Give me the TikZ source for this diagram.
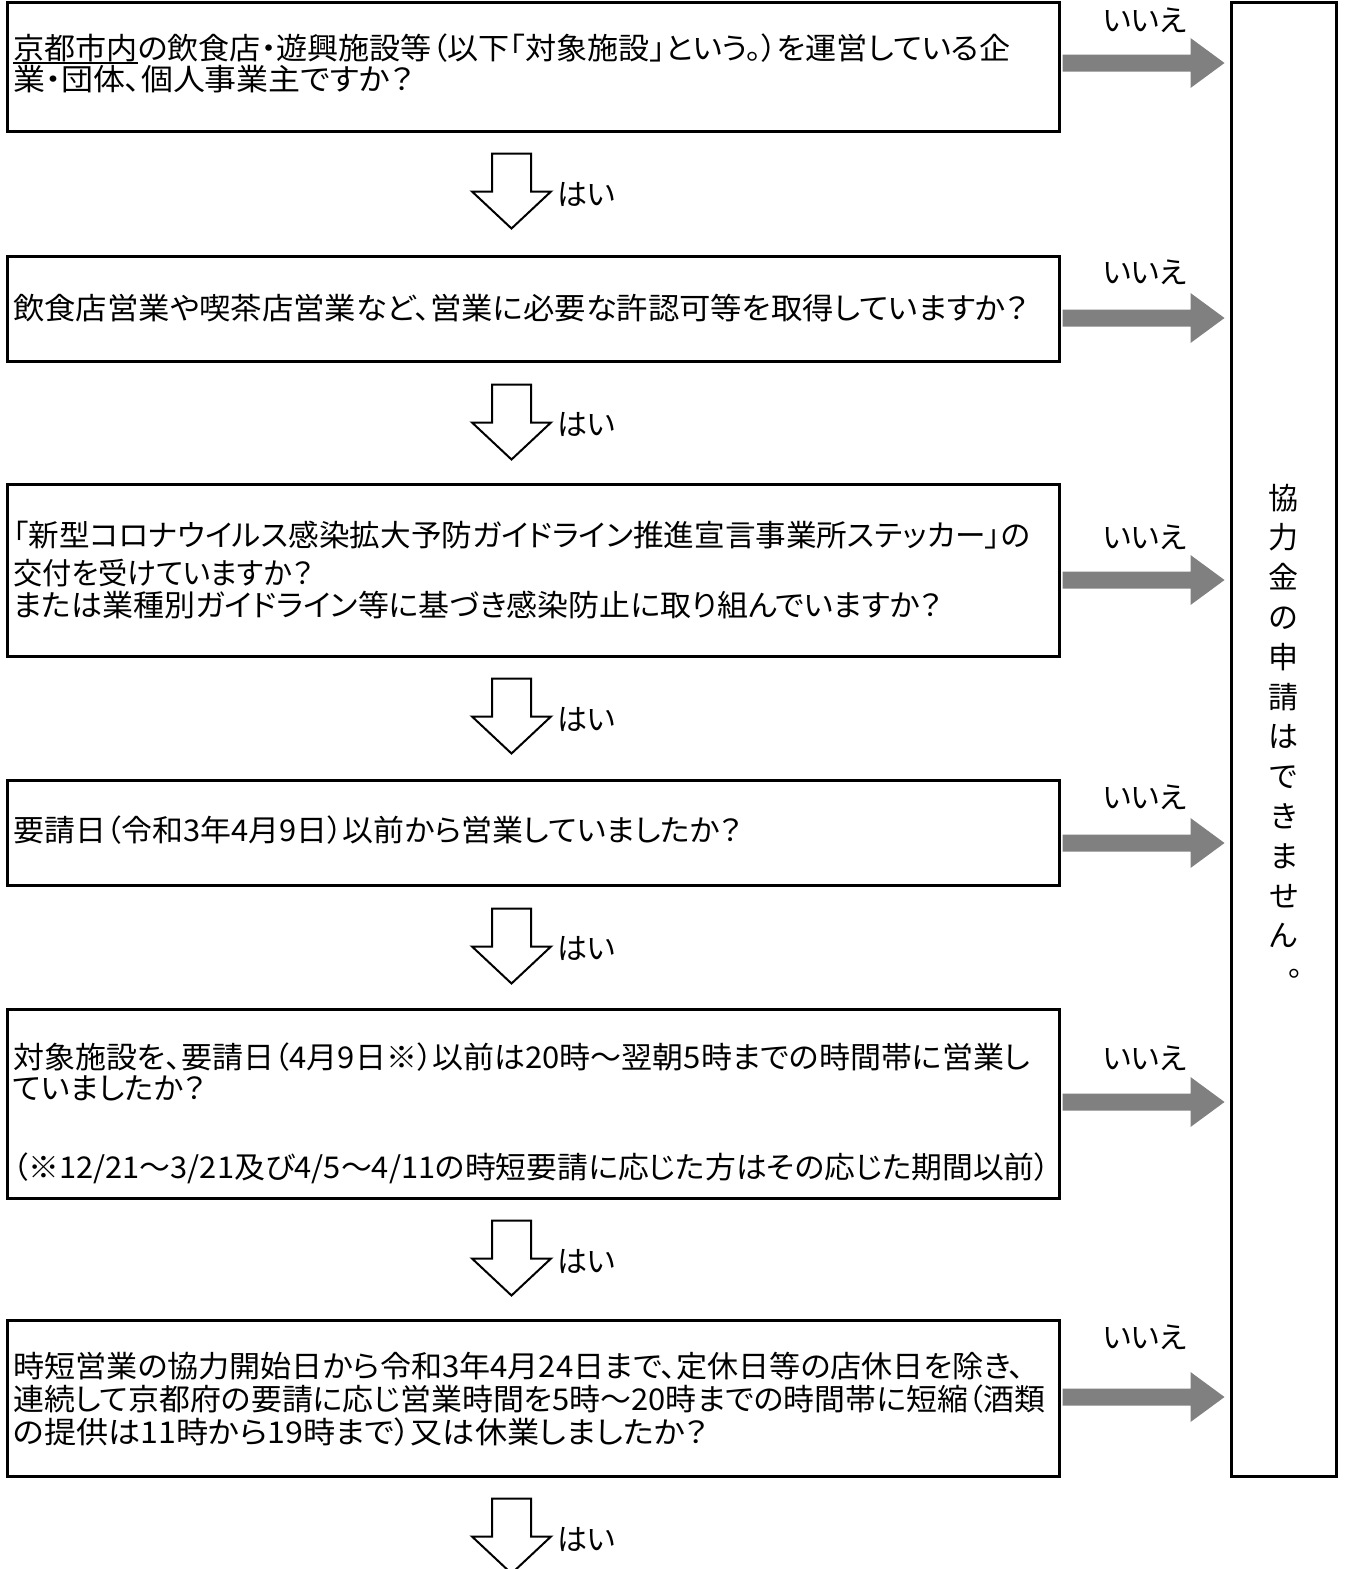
\documentclass[tikz,border=0pt]{standalone}
\usepackage{fontspec}
\usepackage{graphicx}
\setmainfont{Noto Sans CJK JP}[RawFeature=+palt]
\usetikzlibrary{calc}
\definecolor{arrowgray}{HTML}{808080}
\newcommand\fitw[2]{\resizebox{#1pt}{\height}{#2}}
\newcommand\kyoul[1]{\leavevmode\setbox0\hbox{#1}\rlap{\rule[-4.5pt]{\wd0}{2pt}}\box0}
\newcommand\grayarrow[2]{%
  \fill[arrowgray] ($(#1)+(0,-8.5)$) -- ($(#2)+(-34,-8.5)$) -- ($(#2)+(-34,-25)$) -- (#2)
    -- ($(#2)+(-34,25)$) -- ($(#2)+(-34,8.5)$) -- ($(#1)+(0,8.5)$) -- cycle;}
\begin{document}
\begin{tikzpicture}[x=1pt,y=-1pt,
  qbox/.style={draw, line width=3pt, minimum width=1052pt, inner sep=0pt},
  tline/.style={anchor=west, inner sep=0pt, text height=26.4pt, text depth=3.6pt, font=\fontsize{30}{30}\selectfont},
  lbl/.style={inner sep=0pt, text height=26.4pt, text depth=3.6pt, font=\fontsize{30}{30}\selectfont},
  dnarrow/.pic={\draw[line width=2pt, fill=white, line join=miter]
     (-19.5,0) -- (19.5,0) -- (19.5,38) -- (39.5,38) -- (0,75) -- (-39.5,38) -- (-19.5,38) -- cycle;}
]
\useasboundingbox (0,0) rectangle (1346,1569);
\fill[white] (0,0) rectangle (1346,1569);

% question boxes
\node[qbox, minimum height=129pt] (b1) at (533.5,67) {};
\node[qbox, minimum height=105pt] (b2) at (533.5,308.5) {};
\node[qbox, minimum height=172pt] (b3) at (533.5,570) {};
\node[qbox, minimum height=105pt] (b4) at (533.5,832.5) {};
\node[qbox, minimum height=189pt] (b5) at (533.5,1103.5) {};
\node[qbox, minimum height=156pt] (b6) at (533.5,1398) {};
% result box
\node[draw, line width=3pt, minimum width=104.5pt, minimum height=1473.5pt, inner sep=0pt] (r) at (1283.75,739.25) {};

% texts
\node[tline] (t1a) at (13,48) {\fitw{997}{\kyoul{京都市内}の飲食店・遊興施設等（以下「対象施設」という。）を運営している企}};
\node[tline] (t1b) at (13,79) {\fitw{400}{業・団体、個人事業主ですか？}};
\node[tline] (t2a) at (13,308) {\fitw{1015}{飲食店営業や喫茶店営業など、営業に必要な許認可等を取得していますか？}};
\node[tline] (t3a) at (13,535) {\fitw{1017}{「新型コロナウイルス感染拡大予防ガイドライン推進宣言事業所ステッカー」の}};
\node[tline] (t3b) at (13,573) {\fitw{300}{交付を受けていますか？}};
\node[tline] (t3c) at (13,605) {\fitw{929}{または業種別ガイドライン等に基づき感染防止に取り組んでいますか？}};
\node[tline] (t4a) at (13,830) {\fitw{729}{要請日（令和3年4月9日）以前から営業していましたか？}};
\node[tline] (t5a) at (13,1057) {\fitw{1017}{対象施設を、要請日（4月9日※）以前は20時～翌朝5時までの時間帯に営業し}};
\node[tline] (t5b) at (13,1088) {\fitw{192}{ていましたか？}};
\node[tline] (t5c) at (13,1167) {\fitw{1037}{（※12/21～3/21及び4/5～4/11の時短要請に応じた方はその応じた期間以前）}};
\node[tline] (t6a) at (13,1366) {\fitw{1011}{時短営業の協力開始日から令和3年4月24日まで、定休日等の店休日を除き、}};
\node[tline] (t6b) at (13,1399) {\fitw{1032}{連続して京都府の要請に応じ営業時間を5時～20時までの時間帯に短縮（酒類}};
\node[tline] (t6c) at (13,1432) {\fitw{695}{の提供は11時から19時まで）又は休業しましたか？}};

% vertical text
\node[inner sep=0pt, align=center, font=\fontsize{30}{39.8}\selectfont] (rt) at (1283.75,716)
  {協\\力\\金\\の\\申\\請\\は\\で\\き\\ま\\せ\\ん};
\node[inner sep=0pt, font=\fontsize{30}{30}\selectfont] (maru) at (1296,974) {。};

% "no" arrows
\coordinate (s1) at ($(b1.east)+(1.5,-4)$);   \coordinate (e1) at ($(s1 -| r.west)+(-5.5,0)$);
\coordinate (s2) at ($(b2.east)+(1.5,9.5)$);  \coordinate (e2) at ($(s2 -| r.west)+(-5.5,0)$);
\coordinate (s3) at ($(b3.east)+(1.5,10)$);   \coordinate (e3) at ($(s3 -| r.west)+(-5.5,0)$);
\coordinate (s4) at ($(b4.east)+(1.5,10.5)$); \coordinate (e4) at ($(s4 -| r.west)+(-5.5,0)$);
\coordinate (s5) at ($(b5.east)+(1.5,-1.5)$); \coordinate (e5) at ($(s5 -| r.west)+(-5.5,0)$);
\coordinate (s6) at ($(b6.east)+(1.5,-1)$);   \coordinate (e6) at ($(s6 -| r.west)+(-5.5,0)$);
\grayarrow{s1}{e1}
\grayarrow{s2}{e2}
\grayarrow{s3}{e3}
\grayarrow{s4}{e4}
\grayarrow{s5}{e5}
\grayarrow{s6}{e6}
\node[lbl] (n1) at (1145,20) {いいえ};
\node[lbl] (n2) at (1145,272) {いいえ};
\node[lbl] (n3) at (1145,537) {いいえ};
\node[lbl] (n4) at (1145,797) {いいえ};
\node[lbl] (n5) at (1145,1058) {いいえ};
\node[lbl] (n6) at (1145,1337) {いいえ};

% "yes" arrows
\path ($(b1.south)+(-22,20.5)$) pic {dnarrow};
\path ($(b2.south)+(-22,22)$) pic {dnarrow};
\path ($(b3.south)+(-22,21)$) pic {dnarrow};
\path ($(b4.south)+(-22,22)$) pic {dnarrow};
\path ($(b5.south)+(-22,21)$) pic {dnarrow};
\path ($(b6.south)+(-22,21)$) pic {dnarrow};
\node[lbl, anchor=west] (y1) at ($(b1.south)+(23.5,61.5)$) {はい};
\node[lbl, anchor=west] (y2) at ($(b2.south)+(23.5,61.5)$) {はい};
\node[lbl, anchor=west] (y3) at ($(b3.south)+(23.5,61.5)$) {はい};
\node[lbl, anchor=west] (y4) at ($(b4.south)+(23.5,61.5)$) {はい};
\node[lbl, anchor=west] (y5) at ($(b5.south)+(23.5,61.5)$) {はい};
\node[lbl, anchor=west] (y6) at ($(b6.south)+(23.5,61.5)$) {はい};
\end{tikzpicture}
\end{document}
